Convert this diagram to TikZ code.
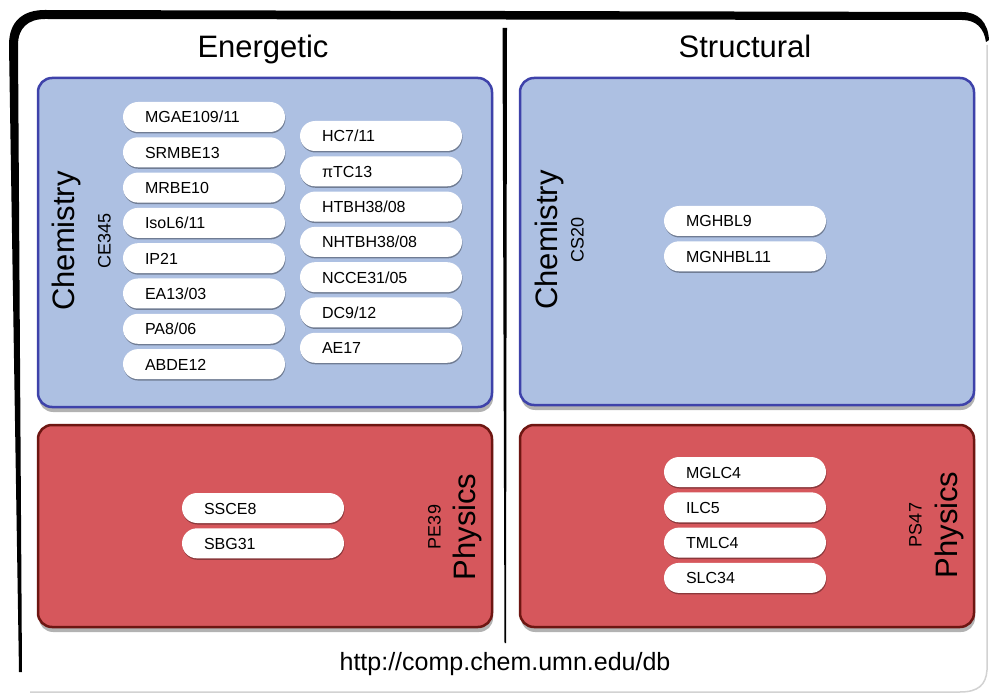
\documentclass[tikz,border=0pt]{standalone}
\usepackage{fontspec}
\setmainfont{Liberation Sans}
\usetikzlibrary{shadows}
\definecolor{boxblue}{RGB}{173,192,226}
\definecolor{bluedge}{RGB}{62,66,170}
\definecolor{boxred}{RGB}{214,87,92}
\definecolor{rededge}{RGB}{110,22,18}
\begin{document}
\begin{tikzpicture}[x=1pt,y=-1pt,
  chembox/.style={draw=bluedge, line width=2.5pt, fill=boxblue, rounded corners=14pt,
    minimum width=454pt, inner sep=0pt,
    drop shadow={shadow xshift=1pt, shadow yshift=-5pt, opacity=0.3, fill=black}},
  physbox/.style={chembox, draw=rededge, fill=boxred},
  pill/.style={fill=white, rounded corners=15pt, minimum width=162pt, minimum height=30pt,
    inner xsep=22pt, inner ysep=0pt, text width=118pt, align=left,
    text height=12pt, text depth=0pt, font={\fontsize{16}{19}\selectfont},
    drop shadow={shadow xshift=0.5pt, shadow yshift=-1.5pt, opacity=0.35, fill=black}},
  bigtext/.style={font={\fontsize{31}{36}\selectfont}},
  codetext/.style={font={\fontsize{18}{21}\selectfont}}]
\useasboundingbox (0,0) rectangle (989,695);
\fill[white] (0,0) rectangle (989,695);
% outer frame
\fill[black] (19,672) -- (9,45) .. controls (9,22) and (22,10) .. (45,10) -- (962,12)
  .. controls (978,12) and (988,22) .. (989,40) -- (986,42)
  .. controls (984,28) and (976,20) .. (962,20) -- (45,19)
  .. controls (28,19) and (18,28) .. (18,45) -- (22,672) -- cycle;
\draw[gray!35, line width=1.5pt] (30,692) -- (960,692) .. controls (978,692) and (986,685) .. (987,670) -- (987,45);
% divider
\fill[black] (502.5,28) -- (507,28) -- (506,643) -- (504.5,643) -- cycle;
% titles
\node[bigtext, anchor=base] (ttlE) at (263,58) {Energetic};
\node[bigtext, anchor=base] (ttlS) at (745,58) {Structural};
% boxes
\node[chembox, minimum height=329pt] (ec) at (265,242.5) {};
\node[chembox, minimum height=327pt] (sc) at (747,241.5) {};
\node[physbox, minimum height=202pt] (ep) at (265,526) {};
\node[physbox, minimum height=202pt] (sp) at (747,526) {};
% side labels
\node[bigtext, rotate=90] (ecname) at (66,241) {Chemistry};
\node[codetext, rotate=90] (eccode) at (104.5,241) {CE345};
\node[bigtext, rotate=90] (scname) at (549.5,240) {Chemistry};
\node[codetext, rotate=90] (sccode) at (577.5,240) {CS20};
\node[bigtext, rotate=90] (epname) at (467,527) {Physics};
\node[codetext, rotate=90] (epcode) at (434.5,527) {PE39};
\node[bigtext, rotate=90] (spname) at (949,525) {Physics};
\node[codetext, rotate=90] (spcode) at (915.5,525) {PS47};
% pills
\foreach \t [count=\i from 0] in {MGAE109/11, SRMBE13, MRBE10, IsoL6/11, IP21, EA13/03, PA8/06, ABDE12}
  \node[pill] (ecl\i) at (204,{117+35.3*\i}) {\t};
\foreach \t [count=\i from 0] in {HC7/11, πTC13, HTBH38/08, NHTBH38/08, NCCE31/05, DC9/12, AE17}
  \node[pill] (ecr\i) at (381,{136+35.3*\i}) {\t};
\foreach \t [count=\i from 0] in {MGHBL9, MGNHBL11}
  \node[pill] (scp\i) at (745,{221+35.3*\i}) {\t};
\foreach \t [count=\i from 0] in {SSCE8, SBG31}
  \node[pill] (epp\i) at (263,{508+35.3*\i}) {\t};
\foreach \t [count=\i from 0] in {MGLC4, ILC5, TMLC4, SLC34}
  \node[pill] (spp\i) at (745,{472+35.3*\i}) {\t};
% footer
\node[anchor=base, font={\fontsize{25}{30}\selectfont}] (url) at (505,670) {http://comp.chem.umn.edu/db};
\end{tikzpicture}
\end{document}
